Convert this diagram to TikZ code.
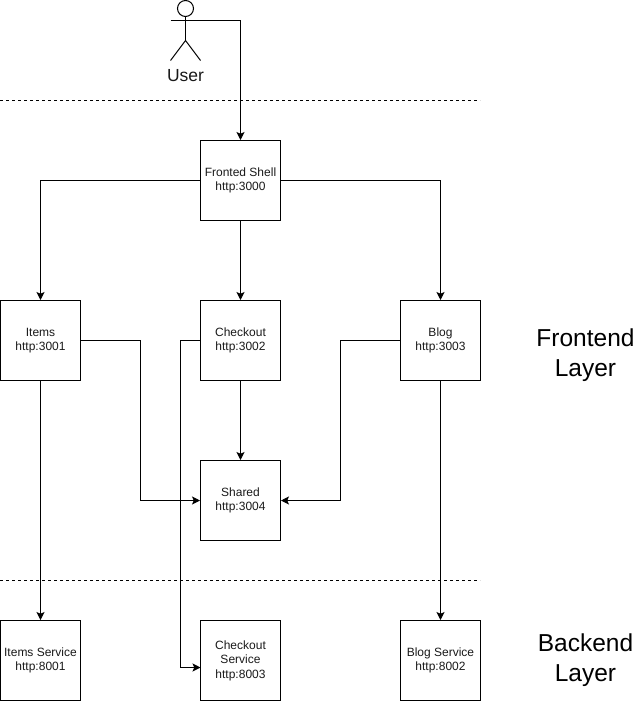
\documentclass[tikz,border=0pt]{standalone}
\usepackage{fontspec}
\setmainfont{Liberation Sans}
\usetikzlibrary{arrows.meta}
\tikzset{
  x=1pt,y=-1pt,
  box/.style={draw=black,line width=1pt,minimum width=80pt,minimum height=80pt,inner sep=0pt,align=center,font=\fontsize{12}{14.5}\selectfont,text=black!90},
  conn/.style={draw=black,line width=1pt,-{Stealth[length=8pt,width=8pt,inset=1.8pt]}},
  plainline/.style={draw=black,line width=1pt},
  sep/.style={draw=black,line width=1pt,dash pattern=on 3pt off 3pt},
  layer/.style={align=center,font=\fontsize{24.5}{30}\selectfont,text=black,inner sep=0pt},
}
\begin{document}
\begin{tikzpicture}
\useasboundingbox (0,0) rectangle (641,701);
% separators
\coordinate (s1a) at (0,100.5); \coordinate (s1b) at (480,100.5);
\coordinate (s2a) at (0,580.5); \coordinate (s2b) at (480,580.5);
\draw[sep] (s1a) -- (s1b);
\draw[sep] (s2a) -- (s2b);
% boxes
\node[box] (shell) at (240.5,180.5) {Fronted Shell\\http:3000};
\node[box] (items) at (40.5,340.5) {Items\\http:3001};
\node[box] (checkout) at (240.5,340.5) {Checkout\\http:3002};
\node[box] (blog) at (440.5,340.5) {Blog\\http:3003};
\node[box] (shared) at (240.5,500.5) {Shared\\http:3004};
\node[box] (itemss) at (40.5,660.5) {Items Service\\http:8001};
\node[box] (checkouts) at (240.5,660.5) {Checkout\\Service\\http:8003};
\node[box] (blogs) at (440.5,660.5) {Blog Service\\http:8002};
% user
\node[draw=black,line width=1pt,circle,minimum size=16pt,inner sep=0pt] (head) at (185.5,8.5) {};
\coordinate (hip) at (185.5,40.5);
\coordinate (armL) at (170.5,20.5);
\coordinate (armR) at (200.5,20.5);
\coordinate (legL) at (170.5,60.5);
\coordinate (legR) at (200.5,60.5);
\draw[plainline] (head.south) -- (hip);
\draw[plainline] (armL) -- (armR);
\draw[plainline] (legL) -- (hip) -- (legR);
\node[inner sep=0pt,font=\fontsize{17.5}{20}\selectfont,text=black!90] (userlabel) at (185.5,76) {User};
% connectors
\draw[conn] (armR) -| (shell.north);
\draw[conn] (shell.west) -| (items.north);
\draw[conn] (shell.south) -- (checkout.north);
\draw[conn] (shell.east) -| (blog.north);
\coordinate (i1) at (140.5,340.5);
\coordinate (c1) at (180.5,340.5);
\coordinate (b1) at (340.5,340.5);
\coordinate (csin) at (200.5,667.5);
\draw[conn] (items.east) -- (i1) |- (shared.west);
\draw[conn] (blog.west) -- (b1) |- (shared.east);
\draw[conn] (checkout.south) -- (shared.north);
\draw[conn] (checkout.west) -- (c1) |- (csin);
\draw[conn] (items.south) -- (itemss.north);
\draw[conn] (blog.south) -- (blogs.north);
% layer labels
\node[layer] (fl) at (585.5,355) {Frontend\\Layer};
\node[layer] (bl) at (585.5,660) {Backend\\Layer};
\end{tikzpicture}
\end{document}
